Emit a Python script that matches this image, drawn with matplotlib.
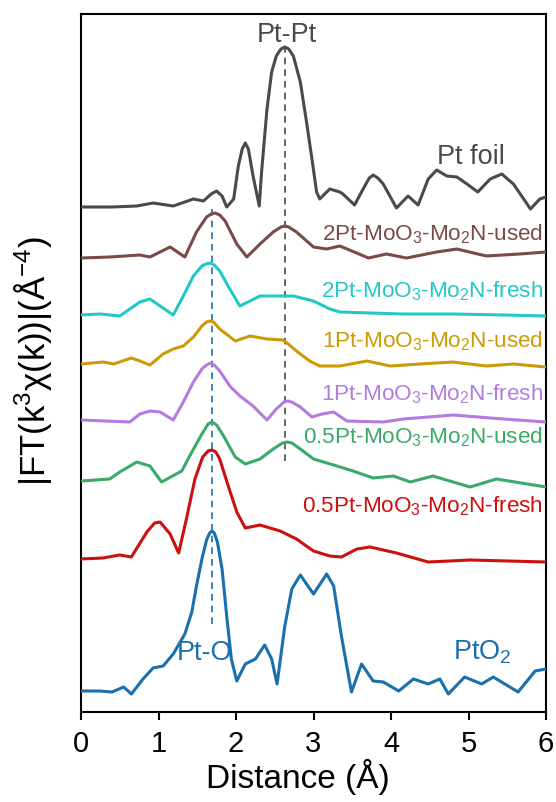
import matplotlib
matplotlib.use("Agg")
import matplotlib.pyplot as plt

plt.rcParams['font.family'] = ['Liberation Sans', 'DejaVu Sans']
plt.rcParams['mathtext.fontset'] = 'custom'
plt.rcParams['mathtext.rm'] = 'Liberation Sans'
plt.rcParams['mathtext.it'] = 'Liberation Sans:italic'
plt.rcParams['mathtext.bf'] = 'Liberation Sans:bold'

# ---- data (x in Angstrom, y = stacked |FT| in arbitrary offset units) ----
foil_x = [0.00, 0.40, 0.72, 0.93, 1.19, 1.45, 1.58, 1.68, 1.75, 1.82, 1.88, 1.97, 2.03, 2.08, 2.12, 2.16, 2.22, 2.30,
          2.33, 2.40, 2.46, 2.52, 2.58, 2.63, 2.68, 2.74, 2.83, 2.91, 2.98, 3.04, 3.08, 3.21, 3.34, 3.38, 3.53, 3.64,
          3.72, 3.77, 3.83, 3.90, 4.07, 4.22, 4.35, 4.48, 4.59, 4.72, 4.85, 4.98, 5.12, 5.28, 5.43, 5.58, 5.80, 5.92, 6.00]
foil_y = [505, 505, 506, 509, 506, 513, 511, 518, 521, 516, 505, 513, 546, 563, 569, 563, 536, 506,
          540, 603, 640, 656, 663, 665, 663, 656, 630, 590, 553, 520, 513, 523, 520, 518, 507, 523,
          534, 537, 534, 528, 504, 516, 507, 533, 542, 536, 535, 528, 520, 533, 538, 528, 503, 513, 515]

u2_x = [0.00, 0.37, 0.76, 0.89, 1.15, 1.34, 1.49, 1.62, 1.68, 1.73, 1.79, 1.86, 2.01, 2.14, 2.31, 2.48, 2.58, 2.63, 2.68, 2.78,
        3.00, 3.17, 3.34, 3.71, 3.94, 4.20, 4.59, 4.85, 5.23, 5.66, 6.00]
u2_y = [454, 455, 457, 455, 465, 455, 480, 495, 498, 499, 497, 491, 468, 455, 468, 480, 485, 486, 485, 480,
        465, 463, 466, 454, 458, 454, 460, 463, 456, 458, 460]

f2_x = [0.00, 0.25, 0.50, 0.76, 0.89, 1.02, 1.19, 1.32, 1.45, 1.56, 1.61, 1.66, 1.72, 1.79, 1.92, 2.05, 2.18, 2.31,
        2.48, 2.74, 3.00, 3.21, 3.34, 3.73, 4.16, 4.80, 5.45, 6.00]
f2_y = [397, 398, 396, 410, 413, 406, 397, 416, 436, 446, 448, 449, 447, 441, 423, 406, 411, 416,
        416, 416, 411, 403, 400, 399, 398, 398, 397, 396]

u1_x = [0.00, 0.29, 0.42, 0.65, 0.76, 0.89, 1.06, 1.19, 1.32, 1.45, 1.56, 1.62, 1.66, 1.71, 1.79, 1.99, 2.18, 2.40,
        2.61, 2.78, 2.95, 3.08, 3.34, 3.69, 3.99, 4.37, 4.80, 5.23, 5.58, 6.00]
u1_y = [348, 350, 348, 354, 351, 347, 358, 363, 366, 375, 386, 390, 391, 390, 383, 371, 376, 373,
        372, 361, 351, 346, 346, 351, 346, 348, 350, 346, 348, 345]

f1_x = [0.00, 0.63, 0.76, 0.89, 1.02, 1.19, 1.32, 1.45, 1.56, 1.62, 1.67, 1.72, 1.79, 1.92, 2.05, 2.22, 2.40, 2.52,
        2.62, 2.67, 2.72, 2.83, 2.98, 3.11, 3.26, 3.43, 3.90, 4.16, 4.80, 5.45, 6.00]
f1_y = [292, 290, 298, 301, 300, 292, 310, 330, 343, 347, 349, 347, 341, 326, 316, 306, 292, 303,
        310, 311, 310, 305, 295, 298, 300, 291, 290, 293, 297, 293, 290]

u05_x = [0.00, 0.37, 0.50, 0.72, 0.89, 1.04, 1.30, 1.43, 1.56, 1.64, 1.69, 1.75, 1.84, 1.99, 2.12, 2.31, 2.48, 2.60, 2.66, 2.72,
         2.83, 3.00, 3.26, 3.51, 3.77, 4.03, 4.25, 4.54, 5.02, 5.36, 6.00]
u05_y = [231, 233, 240, 250, 246, 230, 241, 260, 278, 288, 290, 287, 276, 255, 248, 253, 263, 269, 270, 269,
         263, 253, 247, 241, 234, 236, 230, 236, 225, 233, 225]

f05_x = [0.00, 0.28, 0.50, 0.65, 0.85, 0.95, 1.02, 1.15, 1.26, 1.36, 1.47, 1.57, 1.64, 1.69, 1.74, 1.79, 1.90, 2.01, 2.12,
         2.31, 2.57, 2.78, 3.00, 3.21, 3.36, 3.56, 3.73, 4.07, 4.48, 5.02, 6.00]
f05_y = [153, 154, 157, 155, 180, 189, 190, 178, 159, 193, 233, 255, 261, 262, 260, 253, 226, 200, 184,
         187, 181, 173, 161, 156, 155, 163, 165, 159, 150, 152, 150]

pto2_x = [0.00, 0.24, 0.40, 0.55, 0.65, 0.80, 0.93, 1.06, 1.19, 1.34, 1.43, 1.49, 1.56, 1.62, 1.66, 1.69, 1.72, 1.76,
          1.82, 1.88, 1.94, 2.01, 2.12, 2.25, 2.37, 2.46, 2.53, 2.63, 2.72, 2.83, 3.00, 3.17, 3.26, 3.36,
          3.49, 3.62, 3.77, 3.90, 4.10, 4.29, 4.48, 4.63, 4.74, 4.95, 5.17, 5.32, 5.64, 5.86, 6.00]
pto2_y = [21, 21, 20, 25, 18, 33, 44, 46, 58, 78, 100, 126, 153, 172, 179, 181, 179, 170,
          143, 96, 53, 31, 48, 53, 67, 53, 28, 86, 123, 137, 118, 138, 126, 76,
          20, 48, 31, 30, 21, 33, 28, 33, 18, 35, 28, 35, 20, 41, 43]

colors = ['#4a4a4a', '#7a4a48', '#22c8c8', '#cc9a06', '#b37be0', '#3aaa6a', '#cc1010', '#1a6fad']
labels = ['Pt foil',
          r'2Pt-MoO$_3$-Mo$_2$N-used',
          r'2Pt-MoO$_3$-Mo$_2$N-fresh',
          r'1Pt-MoO$_3$-Mo$_2$N-used',
          r'1Pt-MoO$_3$-Mo$_2$N-fresh',
          r'0.5Pt-MoO$_3$-Mo$_2$N-used',
          r'0.5Pt-MoO$_3$-Mo$_2$N-fresh',
          r'PtO$_2$']
xs = [foil_x, u2_x, f2_x, u1_x, f1_x, u05_x, f05_x, pto2_x]
ys = [foil_y, u2_y, f2_y, u1_y, f1_y, u05_y, f05_y, pto2_y]

# dashed guide lines: (x, y_start, y_end)
ptpt_line = (2.63, 251, 668)
pto_line = (1.686, 88, 506)

fig = plt.figure(figsize=(5.56, 8.03), dpi=100)
ax = fig.add_axes([81/556, 1-713/803, 465/556, 698/803])

for x, y, c in zip(xs, ys, colors):
    ax.plot(x, y, color=c, lw=2.2, solid_joinstyle='round', solid_capstyle='round', zorder=3)

ax.plot([ptpt_line[0]]*2, ptpt_line[1:], color='#4a4a4a', lw=1.2, ls=(0, (4, 3)), zorder=2)
ax.plot([pto_line[0]]*2, pto_line[1:], color='#1a6fad', lw=1.2, ls=(0, (4, 3)), zorder=2)

# sample labels (right aligned, baseline)
lab_y = [None, 473, 416, 366, 313, 270, 201, None]
for lbl, c, yy in zip(labels[1:7], colors[1:7], lab_y[1:7]):
    ax.text(5.96, yy, lbl, color=c, fontsize=16.2, ha='right', va='baseline', zorder=4)

ax.text(2.65, 671, 'Pt-Pt', color='#4a4a4a', fontsize=19.5, ha='center', va='baseline')
ax.text(5.03, 549, 'Pt foil', color='#4a4a4a', fontsize=19.5, ha='center', va='baseline')
ax.text(1.60, 53, 'Pt-O', color='#1a6fad', fontsize=19.5, ha='center', va='baseline')
ax.text(4.80, 53, labels[7], color='#1a6fad', fontsize=19.5, ha='left', va='baseline')

ax.set_xlim(0, 6)
ax.set_ylim(0, 698)
ax.set_xticks([0, 1, 2, 3, 4, 5, 6])
ax.set_yticks([])
ax.tick_params(axis='x', direction='out', length=6, width=1.5, labelsize=21, pad=6)
for s in ax.spines.values():
    s.set_linewidth(1.5)
ax.set_xlabel('Distance (Å)', fontsize=24)
ax.xaxis.set_label_coords(0.466, -0.065)
ax.set_ylabel(r'|FT(k$^3$χ(k))|(Å$^{-4}$)', fontsize=25)
ax.yaxis.set_label_coords(-0.058, 0.504)

fig.savefig('out.png', dpi=100)
